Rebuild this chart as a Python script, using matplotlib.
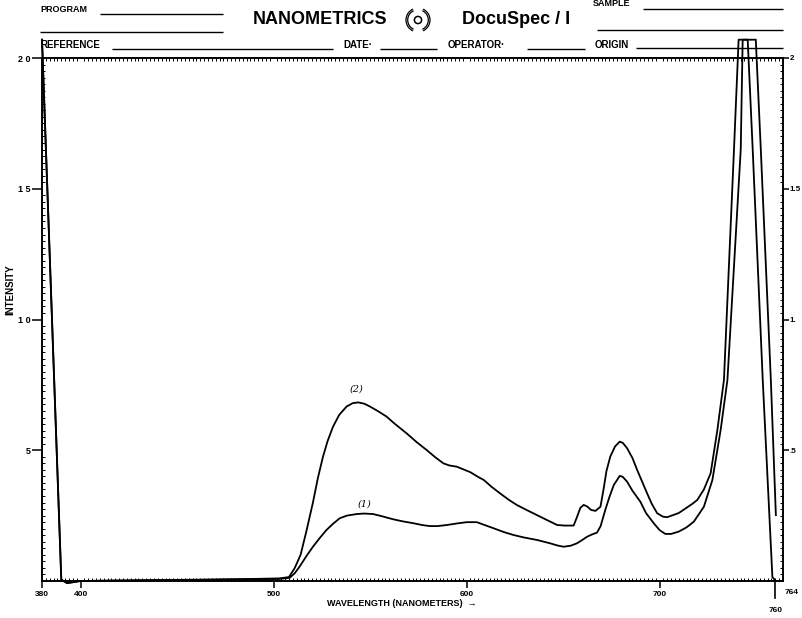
import matplotlib
matplotlib.use("Agg")
import matplotlib.pyplot as plt
from matplotlib.ticker import MultipleLocator
from matplotlib.patches import Arc, Circle

# ---------------- data ----------------
wl_1 = [380, 390, 393, 400, 430, 460, 490, 503, 508.3, 511, 513.5, 517, 520.4, 524, 527.4,
        531, 534.3, 538, 543, 547, 551.6, 556, 562, 567, 572.4, 577, 581, 585, 589.7, 595,
        600.1, 605.3, 609, 613.9, 619, 624.3, 630, 636.5, 643.4, 647, 650.3, 654, 657.2, 660,
        662.4, 665, 667.6, 669.5, 671.9, 674, 676.3, 679.4, 681, 683.2, 686, 690.1, 693, 697,
        700, 703, 706, 710, 714, 717.8, 723, 727.4, 731.7, 735.2, 742.1, 743.1, 745.7, 748.3,
        753.5, 758.5, 760.3, 764]
int_1 = [20.7, 0.05, -0.08, 0.0, 0.02, 0.04, 0.06, 0.08, 0.12, 0.3, 0.55, 0.95, 1.31, 1.65, 1.95,
         2.2, 2.4, 2.5, 2.56, 2.58, 2.56, 2.48, 2.36, 2.28, 2.21, 2.14, 2.1, 2.1, 2.14, 2.2,
         2.25, 2.25, 2.15, 2.02, 1.88, 1.76, 1.66, 1.57, 1.44, 1.36, 1.31, 1.35, 1.44, 1.57,
         1.69, 1.78, 1.85, 2.1, 2.72, 3.2, 3.67, 4.02, 3.98, 3.8, 3.45, 3.03, 2.6, 2.21,
         1.95, 1.8, 1.8, 1.89, 2.05, 2.27, 2.84, 3.86, 5.78, 7.69, 16.5, 20.7, 20.7, 16.5,
         7.69, 0.15, 0.0, 0.0]

wl_2 = [380, 390, 393, 400, 430, 460, 490, 503, 508, 511, 514, 517, 520.4, 523, 525.6, 528,
        530.8, 534, 537.8, 541, 543.8, 547, 550, 554, 558.5, 563, 568.9, 574, 579.3, 584, 588,
        591, 595, 599, 602, 606, 609, 613, 617.4, 622, 626, 631, 636.5, 642, 647, 651, 655.5,
        657, 659, 660.7, 662.5, 664.5, 666.8, 669.4, 671, 672.5, 674.5, 677, 679.4, 681, 683.2,
        686, 688.4, 691, 693.6, 696, 698.8, 701.8, 704, 707, 710, 714, 717, 719.6, 723, 726.5,
        730, 733.4, 738.6, 741, 749.9, 752.5, 757.7, 760.3]
int_2 = [20.7, 0.05, -0.08, 0.0, 0.03, 0.05, 0.08, 0.1, 0.15, 0.5, 1.0, 1.9, 3.0, 3.95, 4.75, 5.35,
         5.9, 6.35, 6.67, 6.8, 6.83, 6.78, 6.67, 6.5, 6.29, 6.0, 5.65, 5.32, 5.01, 4.72, 4.5,
         4.42, 4.37, 4.25, 4.16, 3.98, 3.86, 3.6, 3.35, 3.1, 2.91, 2.72, 2.52, 2.32, 2.14, 2.12, 2.12,
         2.4, 2.8, 2.91, 2.85, 2.72, 2.68, 2.84, 3.5, 4.2, 4.76, 5.15, 5.33, 5.28, 5.08,
         4.7, 4.25, 3.8, 3.35, 2.95, 2.59, 2.46, 2.44, 2.52, 2.6, 2.8, 2.95, 3.1, 3.5, 4.12,
         5.78, 7.69, 16.5, 20.7, 20.7, 16.5, 7.69, 2.52]

x_ticks = [380, 400, 500, 600, 700]
x_tick_labels = ["380", "400", "500", "600", "700"]
y_ticks = [5, 10, 15, 20]
y_left_labels = ["5", "1 0", "1 5", "2 0"]
y_right_labels = [".5", "1.", "1.5", "2"]
curve_labels = ["(1)", "(2)"]

# ---------------- figure ----------------
W, H = 802, 618
fig = plt.figure(figsize=(W / 100, H / 100), dpi=100)
fig.patch.set_facecolor("white")
FONT = "Liberation Sans"

ax = fig.add_axes([42 / W, 1 - 581 / H, (783 - 42) / W, (581 - 58) / H])
ax.set_xlim(380, 764)
ax.set_ylim(0, 20)
for s in ax.spines.values():
    s.set_linewidth(1.2)

ax.plot(wl_1, int_1, color="black", lw=1.3, clip_on=False, solid_joinstyle="round")
ax.plot(wl_2, int_2, color="black", lw=1.3, clip_on=False, solid_joinstyle="round")

ax.set_xticks(x_ticks)
ax.set_xticklabels(x_tick_labels, fontsize=6, fontweight="bold", family=FONT)
ax.set_yticks(y_ticks)
ax.set_yticklabels(y_left_labels, fontsize=6.5, fontweight="bold", family=FONT)
ax.xaxis.set_minor_locator(MultipleLocator(2))
ax.yaxis.set_minor_locator(MultipleLocator(0.25))
ax.tick_params(axis="x", which="major", direction="out", length=5, width=1.1, pad=2)
ax.tick_params(axis="y", which="major", direction="out", length=7, width=1.1, pad=1)
ax.tick_params(which="minor", direction="in", length=2, width=0.7,
               top=True, bottom=True, left=True, right=False)

ax2 = ax.twinx()
ax2.set_ylim(0, 20)
ax2.set_yticks(y_ticks)
ax2.set_yticklabels(y_right_labels, fontsize=5.8, fontweight="bold", family=FONT)
ax2.yaxis.set_minor_locator(MultipleLocator(0.25))
ax2.tick_params(axis="y", which="major", direction="out", length=4.5, width=1.1, pad=0.5)
ax2.tick_params(axis="y", which="minor", direction="in", length=2, width=0.7)
for s in ax2.spines.values():
    s.set_linewidth(1.2)

# extra x-axis end labels (760 tick drops below, 764 at the right end)
xt = ax.get_xaxis_transform()
ax.plot([760, 760], [0, -17 / 523], transform=xt, color="black", lw=1.2, clip_on=False)
ax.text(760, -29 / 523, "760", transform=xt, ha="center", va="center",
        fontsize=6, fontweight="bold", family=FONT)
ax.text(765, -12 / 523, "764", transform=xt, ha="left", va="center",
        fontsize=6, fontweight="bold", family=FONT)

# curve labels
ax.text(543, 7.35, curve_labels[1], ha="center", va="center", fontsize=7,
        style="italic", family="DejaVu Serif")
ax.text(547, 2.95, curve_labels[0], ha="center", va="center", fontsize=7,
        style="italic", family="DejaVu Serif")

# ---------------- overlay in pixel coordinates (header, axis titles) ----------------
ov = fig.add_axes([0, 0, 1, 1], zorder=5)
ov.set_xlim(0, W)
ov.set_ylim(H, 0)
ov.axis("off")
ov.patch.set_alpha(0)


def hline(x0, x1, y, lw=1.0):
    ov.plot([x0, x1], [y, y], color="black", lw=lw, solid_capstyle="butt")


def label(x, y, s, size=6.5, ha="left"):
    ov.text(x, y, s, ha=ha, va="center", fontsize=size, fontweight="bold", family=FONT)


label(40, 10, "PROGRAM", 6.5)
hline(100, 223, 14)
hline(40, 223, 32)
label(320, 19, "NANOMETRICS", 13, ha="center")

# logo
for r in (12, 10.3):
    ov.add_patch(Arc((418, 20), 2 * r, 2 * r, theta1=115, theta2=245, lw=0.9, color="black"))
    ov.add_patch(Arc((418, 20), 2 * r, 2 * r, theta1=-65, theta2=65, lw=0.9, color="black"))
ov.add_patch(Circle((418, 20), 3.6, fill=False, lw=1.1, color="black"))

label(462, 19, "DocuSpec / I", 13)
label(593, 3, "SAMPLE", 6.5)
hline(643, 783, 9)
hline(597, 783, 30)

label(40, 45, "REFERENCE", 7)
hline(112, 333, 49)
label(343, 45, "DATE·", 7)
hline(380, 437, 49)
label(448, 45, "OPERATOR·", 7)
hline(527, 585, 49)
label(595, 45, "ORIGIN", 7)
hline(636, 783, 48)

ov.text(10, 290, "INTENSITY", rotation=90, ha="center", va="center",
        fontsize=7, fontweight="bold", family=FONT)
ov.text(402, 604, "WAVELENGTH (NANOMETERS)  \u2192", ha="center", va="center",
        fontsize=6.5, fontweight="bold", family=["Liberation Sans", "DejaVu Sans"])

fig.savefig("out.png", dpi=100, facecolor="white")
